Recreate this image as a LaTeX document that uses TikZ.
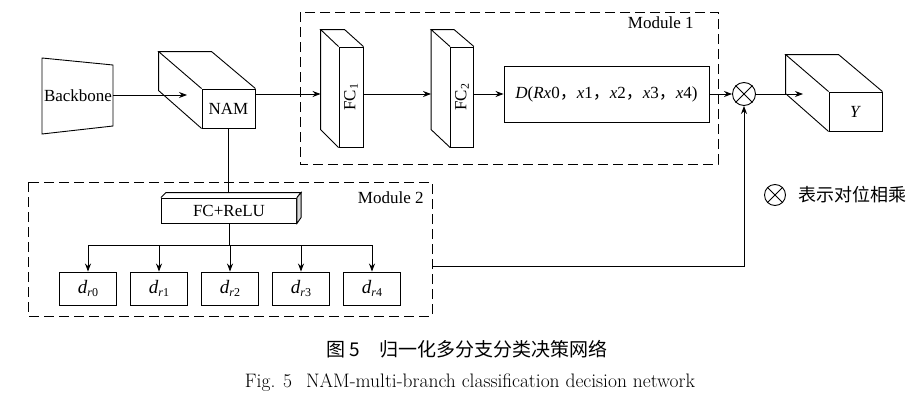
\documentclass[tikz,border=0pt]{standalone}
\usepackage{fontspec}
\newfontfamily\tnr{Liberation Serif}
\newfontfamily\cjk{Noto Sans CJK SC}
\usetikzlibrary{arrows.meta}
\begin{document}
\begin{tikzpicture}[x=1pt,y=-1pt,line width=0.9pt,
  font=\tnr\fontsize{17}{20}\selectfont,
  arr/.style={-{Stealth[length=8pt,width=6pt]}},
  box/.style={draw,inner sep=0pt},
  modbox/.style={draw,dash pattern=on 10pt off 5pt,line width=1pt},
  dnode/.style={box,minimum width=57pt,minimum height=33pt},
  oplus/.style={draw,circle,inner sep=0pt}]
\useasboundingbox[fill=white] (0,0) rectangle (924,407);

% module boxes
\draw[modbox] (300,12) rectangle (718,164);
\node[anchor=east,inner sep=0pt] (m1) at (694,23) {Module 1};
\draw[modbox] (28,182) rectangle (432,316);
\node[anchor=east,inner sep=0pt] (m2) at (424,198) {Module 2};

% backbone
\draw (42,58) -- (113,65) -- (113,126) -- (42,134) -- cycle;
\node (bb) at (78,96) {Backbone};
\coordinate (bbr) at (113,95);
\coordinate (namin) at (187,95);

% NAM cuboid
\node[box,minimum width=53pt,minimum height=39pt] (nam) at (228.5,108.5) {NAM};
\draw (nam.north west) -- ++(-43,-37) coordinate (namb) -- ++(53,0) -- (nam.north east);
\draw (namb) -- ++(0,39) -- (nam.south west);
\draw[arr] (bbr) -- (namin);

% FC1
\node[box,minimum width=24pt,minimum height=100pt] (fc1) at (351,97) {};
\node[rotate=90,inner sep=0pt] (fc1t) at (fc1) {FC\textsubscript{1}};
\draw (fc1.north west) -- ++(-18,-17) coordinate (fc1b) -- ++(24,0) -- (fc1.north east);
\draw (fc1b) -- ++(0,100) -- (fc1.south west);

% FC2
\node[box,minimum width=23pt,minimum height=100pt] (fc2) at (462,97) {};
\node[rotate=90,inner sep=0pt] (fc2t) at (fc2) {FC\textsubscript{2}};
\draw (fc2.north west) -- ++(-19,-17) coordinate (fc2b) -- ++(23,0) -- (fc2.north east);
\draw (fc2b) -- ++(0,100) -- (fc2.south west);

% D box
\node[box,minimum width=205pt,minimum height=56pt] (dbox) at (606.5,94)
  {\textit{D}(\textit{Rx}0{\cjk ，}\textit{x}1{\cjk ，}\textit{x}2{\cjk ，}\textit{x}3{\cjk ，}\textit{x}4)};

% connectors in module 1
\draw[arr] (nam.east |- dbox) -- (fc1b |- dbox);
\draw[arr] (fc1.east |- dbox) -- (fc2b |- dbox);
\draw[arr] (fc2.east |- dbox) -- (dbox.west);

% otimes
\node[oplus,minimum size=23pt] (ox) at (744,94) {};
\draw (ox.north west) -- (ox.south east) (ox.north east) -- (ox.south west);
\draw[arr] (dbox.east) -- (ox.west);

% Y cuboid
\node[box,minimum width=53pt,minimum height=39pt] (yb) at (855.5,111.5) {\textit{Y}};
\draw (yb.north west) -- ++(-43,-37) coordinate (ybb) -- ++(53,0) -- (yb.north east);
\draw (ybb) -- ++(0,39) -- (yb.south west);
\coordinate (yin) at (803,94);
\draw[arr] (ox.east) -- (yin);

% legend
\node[oplus,minimum size=21pt] (lox) at (775,195) {};
\draw (lox.north west) -- (lox.south east) (lox.north east) -- (lox.south west);
\node[anchor=west,inner sep=0pt,font=\cjk\fontsize{18}{20}\selectfont] (legt) at (798,195) {表示对位相乘};

% FC+ReLU
\node[box,minimum width=135pt,minimum height=25pt] (fcr) at (229,210.5) {FC+ReLU};
\draw (fcr.north west) -- ++(5,-5) coordinate (fcrtop) -- ++(135,0) coordinate (fcrc) -- (fcr.north east);
\draw[fill=gray!30] (fcr.north east) -- (fcrc) -- ++(0,25) -- (fcr.south east) -- cycle;
\draw (nam.south) -- (nam.south |- fcrtop);

% d boxes
\newcommand\dlab[1]{\fontsize{19}{20}\selectfont\textit{d}\raisebox{-0.35ex}{\fontsize{12}{12}\selectfont\textit{r}#1}}
\node[dnode] (d0) at (88,288.5) {\dlab{0}};
\node[dnode] (d1) at (159,288.5) {\dlab{1}};
\node[dnode] (d2) at (230,288.5) {\dlab{2}};
\node[dnode] (d3) at (301,288.5) {\dlab{3}};
\node[dnode] (d4) at (372,288.5) {\dlab{4}};
\coordinate (bus) at (0,245);
\draw (fcr.south) -- (fcr.south |- bus);
\draw (d0.north |- bus) -- (d4.north |- bus);
\foreach \i in {0,...,4} {\draw[arr] (d\i.north |- bus) -- (d\i.north);}

% module 2 output to otimes
\coordinate (m2out) at (432,266);
\draw[arr] (m2out) -| (ox.south);

% captions
\node[font=\cjk\fontsize{19}{22}\selectfont] (cap1) at (467,349) {图 5\quad 归一化多分支分类决策网络};
\node[font=\fontsize{19.5}{22}\selectfont] (cap2) at (470,383) {Fig. 5\hspace{14pt}NAM-multi-branch classification decision network};
\end{tikzpicture}
\end{document}
